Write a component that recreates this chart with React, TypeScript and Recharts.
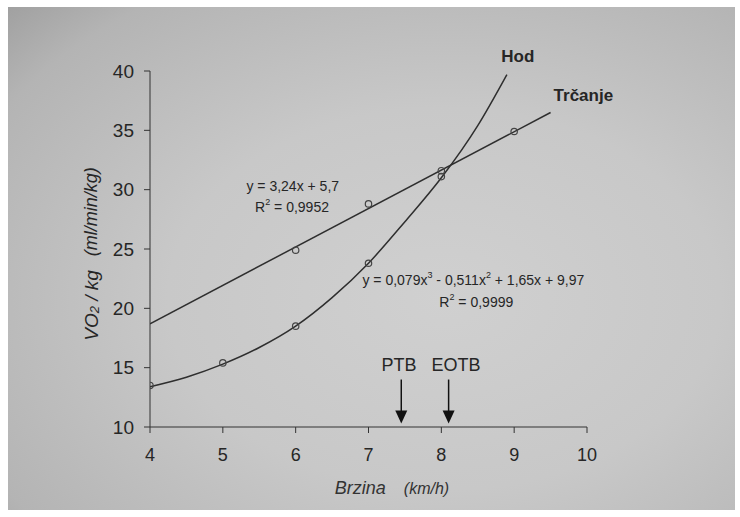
import {
  ComposedChart,
  Line,
  Scatter,
  XAxis,
  YAxis,
  ReferenceLine,
  ReferenceDot,
} from 'recharts'

// measured points (km/h -> VO2/kg)
const runSpeed = [6, 7, 8, 9]
const runVO2 = [24.9, 28.8, 31.6, 34.9]
const walkSpeed = [4, 5, 6, 7, 8]
const walkVO2 = [13.5, 15.4, 18.5, 23.8, 31.1]

// trend lines
const runTrendSpeed = [4, 9.5]
const runTrendVO2 = [18.7, 36.5]
const walkTrendSpeed = [4, 4.5, 5, 5.5, 6, 6.5, 7, 7.5, 8, 8.5, 8.9]
const walkTrendVO2 = [13.4, 14.2, 15.3, 16.7, 18.5, 20.9, 23.8, 27.3, 31.0, 35.4, 39.7]

const xTicks = [4, 5, 6, 7, 8, 9, 10]
const yTicks = [10, 15, 20, 25, 30, 35, 40]

// threshold markers
const ptbSpeed = 7.45
const eotbSpeed = 8.1

const FONT = '"Liberation Sans", Arial, sans-serif'
const INK = '#262626'

const toPoints = (xs: number[], ys: number[]) => xs.map((x, i) => ({ x, y: ys[i] }))

const runPoints = toPoints(runSpeed, runVO2)
const walkPoints = toPoints(walkSpeed, walkVO2)
const runTrend = toPoints(runTrendSpeed, runTrendVO2)
const walkTrend = toPoints(walkTrendSpeed, walkTrendVO2)

const OpenCircle = (props: any) => (
  <circle cx={props.cx} cy={props.cy} r={3.2} fill="none" stroke="#444" strokeWidth={1.2} />
)

const ArrowHead = (props: any) => {
  const { cx, cy } = props
  return <polygon points={`${cx - 6},${cy - 13} ${cx + 6},${cy - 13} ${cx},${cy}`} fill="#111" />
}

const makeText =
  (content: React.ReactNode, size: number, weight: string | number = 'normal') =>
  (props: any) => (
    <text
      x={props.cx}
      y={props.cy}
      textAnchor="middle"
      dominantBaseline="central"
      fontFamily={FONT}
      fontSize={size}
      fontWeight={weight}
      fill={INK}
    >
      {content}
    </text>
  )

const sup = (s: string) => (
  <tspan dy={-5} fontSize={9}>
    {s}
  </tspan>
)
const back = (s: string) => <tspan dy={5}>{s}</tspan>

const YLabel = (props: any) => {
  const vb = props.viewBox || { x: 0, y: 0, width: 0, height: 0 }
  const cx = vb.x + vb.width - 59
  const cy = vb.y + vb.height / 2 + 5
  return (
    <text
      x={cx}
      y={cy}
      transform={`rotate(-90, ${cx}, ${cy})`}
      textAnchor="middle"
      dominantBaseline="central"
      fontFamily={FONT}
      fontStyle="italic"
      fontSize={19}
      fill={INK}
    >
      <tspan>VO</tspan>
      <tspan fontSize={13} dy={3}>2</tspan>
      <tspan dy={-3}> / kg</tspan>
      <tspan fontSize={18} dx={14}>(ml/min/kg)</tspan>
    </text>
  )
}

const XLabel = (props: any) => {
  const vb = props.viewBox || { x: 0, y: 0, width: 0, height: 0 }
  const cx = 392 - 8
  const cy = vb.y + 61
  return (
    <text
      x={cx}
      y={cy}
      textAnchor="middle"
      dominantBaseline="central"
      fontFamily={FONT}
      fontStyle="italic"
      fill="#333"
    >
      <tspan fontSize={18}>Brzina</tspan>
      <tspan fontSize={16} dx={18}>(km/h)</tspan>
    </text>
  )
}

export default function App() {
  return (
    <div style={{ position: 'absolute', left: 0, top: 0, width: 740, height: 517, background: '#fff' }}>
      <div
        style={{
          position: 'absolute',
          left: 8,
          top: 7,
          width: 727,
          height: 503,
          background:
            'radial-gradient(ellipse 95% 95% at 60% 58%, #d0d0d0 0%, #c8c8c8 40%, #b4b4b4 75%, #8e8e8e 100%)',
        }}
      >
        <ComposedChart
          width={727}
          height={503}
          margin={{ top: 64, right: 148, bottom: 53, left: 102 }}
        >
          <XAxis
            dataKey="x"
            type="number"
            domain={[4, 10]}
            ticks={xTicks}
            allowDataOverflow
            height={30}
            tickSize={6}
            tickMargin={15}
            stroke="#333"
            tick={{ fontSize: 18, fontFamily: FONT, fill: INK }}
            label={<XLabel />}
          />
          <YAxis
            dataKey="y"
            type="number"
            domain={[10, 40]}
            ticks={yTicks}
            allowDataOverflow
            width={40}
            tickSize={6}
            tickMargin={10}
            stroke="#333"
            tick={{ fontSize: 19, fontFamily: FONT, fill: INK }}
            label={<YLabel />}
          />
          <Line
            data={runTrend}
            dataKey="y"
            type="linear"
            stroke="#2e2e2e"
            strokeWidth={1.5}
            dot={false}
            isAnimationActive={false}
          />
          <Line
            data={walkTrend}
            dataKey="y"
            type="monotone"
            stroke="#2e2e2e"
            strokeWidth={1.5}
            dot={false}
            isAnimationActive={false}
          />
          <Scatter data={runPoints} dataKey="y" shape={OpenCircle} isAnimationActive={false} />
          <Scatter data={walkPoints} dataKey="y" shape={OpenCircle} isAnimationActive={false} />

          <ReferenceLine
            segment={[
              { x: ptbSpeed, y: 14 },
              { x: ptbSpeed, y: 11.2 },
            ]}
            stroke="#111"
            strokeWidth={1.5}
          />
          <ReferenceDot x={ptbSpeed} y={10.3} shape={ArrowHead} ifOverflow="visible" />
          <ReferenceLine
            segment={[
              { x: eotbSpeed, y: 14 },
              { x: eotbSpeed, y: 11.2 },
            ]}
            stroke="#111"
            strokeWidth={1.5}
          />
          <ReferenceDot x={eotbSpeed} y={10.3} shape={ArrowHead} ifOverflow="visible" />

          <ReferenceDot x={7.42} y={15.2} shape={makeText('PTB', 18)} ifOverflow="visible" />
          <ReferenceDot x={8.2} y={15.2} shape={makeText('EOTB', 18)} ifOverflow="visible" />
          <ReferenceDot x={9.05} y={41.2} shape={makeText('Hod', 17, 'bold')} ifOverflow="visible" />
          <ReferenceDot x={9.95} y={37.9} shape={makeText('Trčanje', 17, 'bold')} ifOverflow="visible" />

          <ReferenceDot x={5.96} y={30.33} shape={makeText('y = 3,24x + 5,7', 14)} ifOverflow="visible" />
          <ReferenceDot
            x={5.95}
            y={28.56}
            shape={makeText(<>R{sup('2')}{back(' = 0,9952')}</>, 14)}
            ifOverflow="visible"
          />
          <ReferenceDot
            x={8.44}
            y={22.38}
            shape={makeText(
              <>
                y = 0,079x{sup('3')}
                {back(' - 0,511x')}
                {sup('2')}
                {back(' + 1,65x + 9,97')}
              </>,
              14
            )}
            ifOverflow="visible"
          />
          <ReferenceDot
            x={8.48}
            y={20.55}
            shape={makeText(<>R{sup('2')}{back(' = 0,9999')}</>, 14)}
            ifOverflow="visible"
          />
        </ComposedChart>
      </div>
    </div>
  )
}
